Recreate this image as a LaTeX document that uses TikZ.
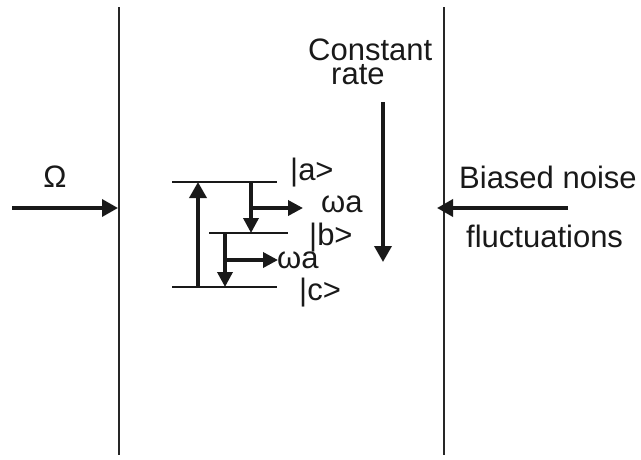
\documentclass[tikz,border=0pt]{standalone}
\usepackage{fontspec}
\setmainfont{Liberation Sans}
\usetikzlibrary{arrows.meta}
\begin{document}
\begin{tikzpicture}[x=1pt,y=-1pt,
  lbl/.style={inner sep=0pt,anchor=base west,font=\fontsize{31}{33}\selectfont,text=black!90},
  wall/.style={line width=1.6pt,black!85},
  level/.style={line width=2pt,black!90},
  arr/.style={line width=3.5pt,black!90,-{Triangle[length=16pt,width=17pt]}},
  sarr/.style={line width=3.5pt,black!90,-{Triangle[length=15pt,width=15pt]}}]
\useasboundingbox (0,0) rectangle (641,459);
% walls
\coordinate (lt) at (119,7); \coordinate (lb) at (119,455);
\coordinate (rt) at (444,7); \coordinate (rb) at (444,455);
\draw[wall] (lt) -- (lb);
\draw[wall] (rt) -- (rb);
% side arrows
\coordinate (om0) at (12,208); \coordinate (om1) at (118,208);
\draw[arr] (om0) -- (om1);
\coordinate (bn0) at (568,208); \coordinate (bn1) at (437,208);
\draw[arr] (bn0) -- (bn1);
\node[lbl,anchor=base] (omega) at (55,187) {Ω};
\node[lbl] (biased) at (459,188) {Biased noise};
\node[lbl] (fluct) at (466,247) {fluctuations};
% constant rate
\node[lbl] (const) at (308,60) {\begin{tabular}[t]{@{}l@{}}Constant\\[-9pt]\hspace*{23pt}rate\end{tabular}};
\coordinate (cr0) at (383,102); \coordinate (cr1) at (383,262);
\draw[arr] (cr0) -- (cr1);
% levels
\coordinate (a0) at (172,182); \coordinate (a1) at (277,182);
\coordinate (b0) at (209,233); \coordinate (b1) at (288,233);
\coordinate (c0) at (172,287); \coordinate (c1) at (277,287);
\draw[level] (a0) -- (a1);
\draw[level] (b0) -- (b1);
\draw[level] (c0) -- (c1);
\node[lbl] (la) at (290,180) {|a>};
\node[lbl] (lb) at (309,245) {|b>};
\node[lbl] (lc) at (299,300) {|c>};
\node[lbl] (wa1) at (321,212) {ωa};
\node[lbl] (wa2) at (277,268) {ωa};
% transitions
\coordinate (up0) at (198,287); \coordinate (up1) at (198,182);
\draw[arr] (up0) -- (up1);
\coordinate (ab0) at (251,182); \coordinate (ab1) at (251,233);
\draw[sarr] (ab0) -- (ab1);
\coordinate (abh0) at (251,208); \coordinate (abh1) at (303,208);
\draw[sarr] (abh0) -- (abh1);
\coordinate (bc0) at (225,233); \coordinate (bc1) at (225,287);
\draw[sarr] (bc0) -- (bc1);
\coordinate (bch0) at (225,260); \coordinate (bch1) at (278,260);
\draw[sarr] (bch0) -- (bch1);
\end{tikzpicture}
\end{document}
